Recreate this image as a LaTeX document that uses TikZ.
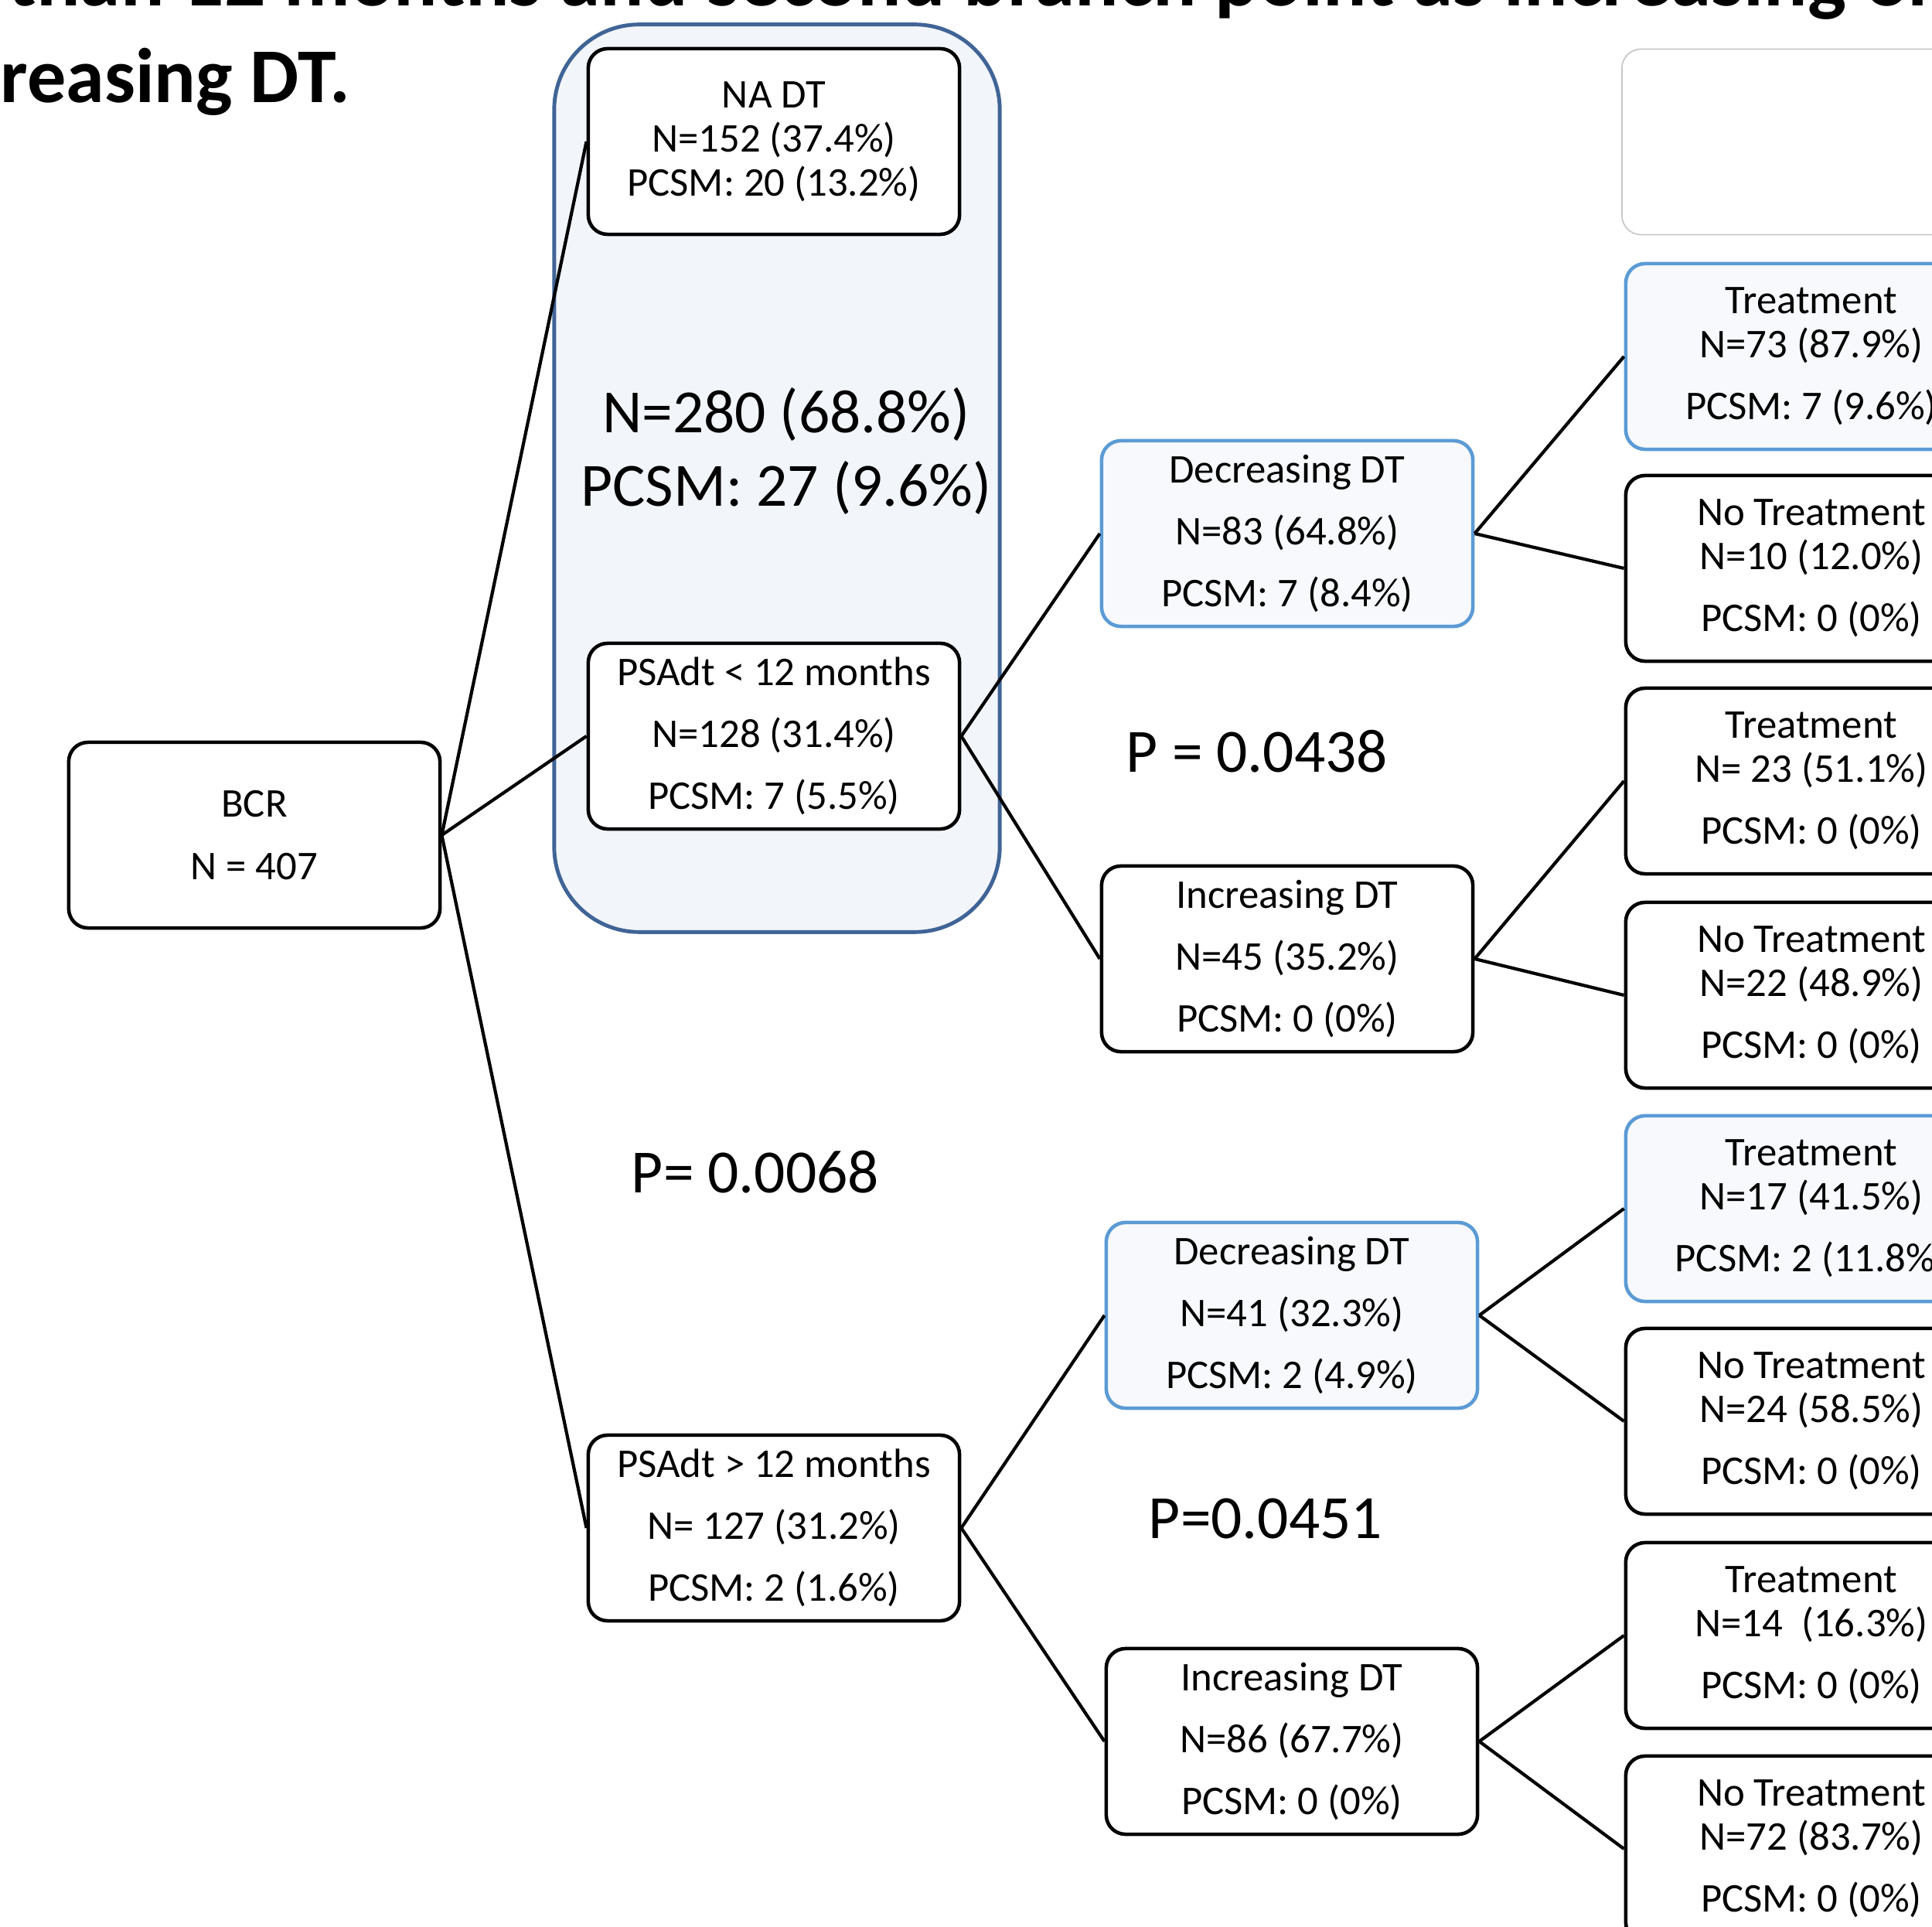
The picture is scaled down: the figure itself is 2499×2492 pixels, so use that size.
\documentclass[tikz,border=0pt]{standalone}
\usepackage{fontspec}
\setmainfont{Carlito}
\definecolor{boxblue}{RGB}{91,155,213}
\definecolor{boxfill}{RGB}{247,249,252}
\definecolor{groupblue}{RGB}{64,100,150}
\definecolor{groupfill}{RGB}{242,245,250}
\definecolor{blankgray}{RGB}{200,200,200}
\newcommand{\gap}{\\[6.6pt]}

\begin{document}
\begin{tikzpicture}[x=0.01cm,y=-0.01cm,
  leaf/.style={draw, line width=1.3pt, rounded corners=0.25cm, fill=white, minimum width=4.8cm, minimum height=2.4cm, align=center, inner sep=0pt, font=\fontsize{15pt}{16.2pt}\selectfont},
  blueleaf/.style={leaf, draw=boxblue, fill=boxfill},
  big/.style={font=\fontsize{22.6pt}{27pt}\selectfont, align=center},
  head/.style={font=\fontsize{28.5pt}{34pt}\selectfont\bfseries, anchor=base west, inner sep=0pt},
  edge/.style={line width=1.2pt}]
\useasboundingbox (0,0) rectangle (2499,2492);
\clip (0,0) rectangle (2499,2492);

\node[head, font=\fontsize{30pt}{34pt}\selectfont\bfseries] (title) at (10,8) {than 12 months and second branch point as increasing or};
\node[head] (title2) at (0,133) {reasing DT.};

\node[draw=groupblue, fill=groupfill, line width=1.4pt, rounded corners=1.1cm, minimum width=5.76cm, minimum height=11.73cm] (group) at (1005,618.5) {};

\node[leaf] (bcr) at (329,1080) {BCR\gap N = 407};
\node[leaf] (na) at (1001,183) {NA DT\\N=152 (37.4\%)\\PCSM: 20 (13.2\%)};
\node[leaf] (lt) at (1001,952) {PSAdt < 12 months\gap N=128 (31.4\%)\gap PCSM: 7 (5.5\%)};
\node[leaf] (gt) at (1001,1976) {PSAdt > 12 months\gap N= 127 (31.2\%)\gap PCSM: 2 (1.6\%)};

\node[blueleaf] (dec1) at (1665,690) {Decreasing DT\gap N=83 (64.8\%)\gap PCSM: 7 (8.4\%)};
\node[leaf] (inc1) at (1665,1240) {Increasing DT\gap N=45 (35.2\%)\gap PCSM: 0 (0\%)};
\node[blueleaf] (dec2) at (1671,1701) {Decreasing DT\gap N=41 (32.3\%)\gap PCSM: 2 (4.9\%)};
\node[leaf] (inc2) at (1671,2252) {Increasing DT\gap N=86 (67.7\%)\gap PCSM: 0 (0\%)};

\node[draw=blankgray, line width=0.5pt, rounded corners=0.25cm, minimum width=4.8cm, minimum height=2.4cm] (blank) at (2338,183.5) {};
\node[blueleaf] (t1) at (2343,461) {Treatment\\N=73 (87.9\%)\gap PCSM: 7 (9.6\%)};
\node[leaf] (n1) at (2343,735) {No Treatment\\N=10 (12.0\%)\gap PCSM: 0 (0\%)};
\node[leaf] (t2) at (2343,1010) {Treatment\\N= 23 (51.1\%)\gap PCSM: 0 (0\%)};
\node[leaf] (n2) at (2343,1287) {No Treatment\\N=22 (48.9\%)\gap PCSM: 0 (0\%)};
\node[blueleaf] (t3) at (2343,1563) {Treatment\\N=17 (41.5\%)\gap PCSM: 2 (11.8\%)};
\node[leaf] (n3) at (2343,1838) {No Treatment\\N=24 (58.5\%)\gap PCSM: 0 (0\%)};
\node[leaf] (t4) at (2343,2115) {Treatment\\N=14~ (16.3\%)\gap PCSM: 0 (0\%)};
\node[leaf] (n4) at (2343,2391) {No Treatment\\N=72 (83.7\%)\gap PCSM: 0 (0\%)};

\node[big] (sub) at (1017,583) {N=280 (68.8\%)\\PCSM: 27 (9.6\%)};
\node[big] (p1) at (1626,972) {P = 0.0438};
\node[big] (p0) at (977,1516) {P= 0.0068};
\node[big] (p2) at (1637,1964) {P=0.0451};

\foreach \a/\b in {bcr/na,bcr/lt,bcr/gt,lt/dec1,lt/inc1,gt/dec2,gt/inc2,dec1/t1,dec1/n1,inc1/t2,inc1/n2,dec2/t3,dec2/n3,inc2/t4,inc2/n4}
  \draw[edge] (\a.east) -- (\b.west);

\end{tikzpicture}
\end{document}
